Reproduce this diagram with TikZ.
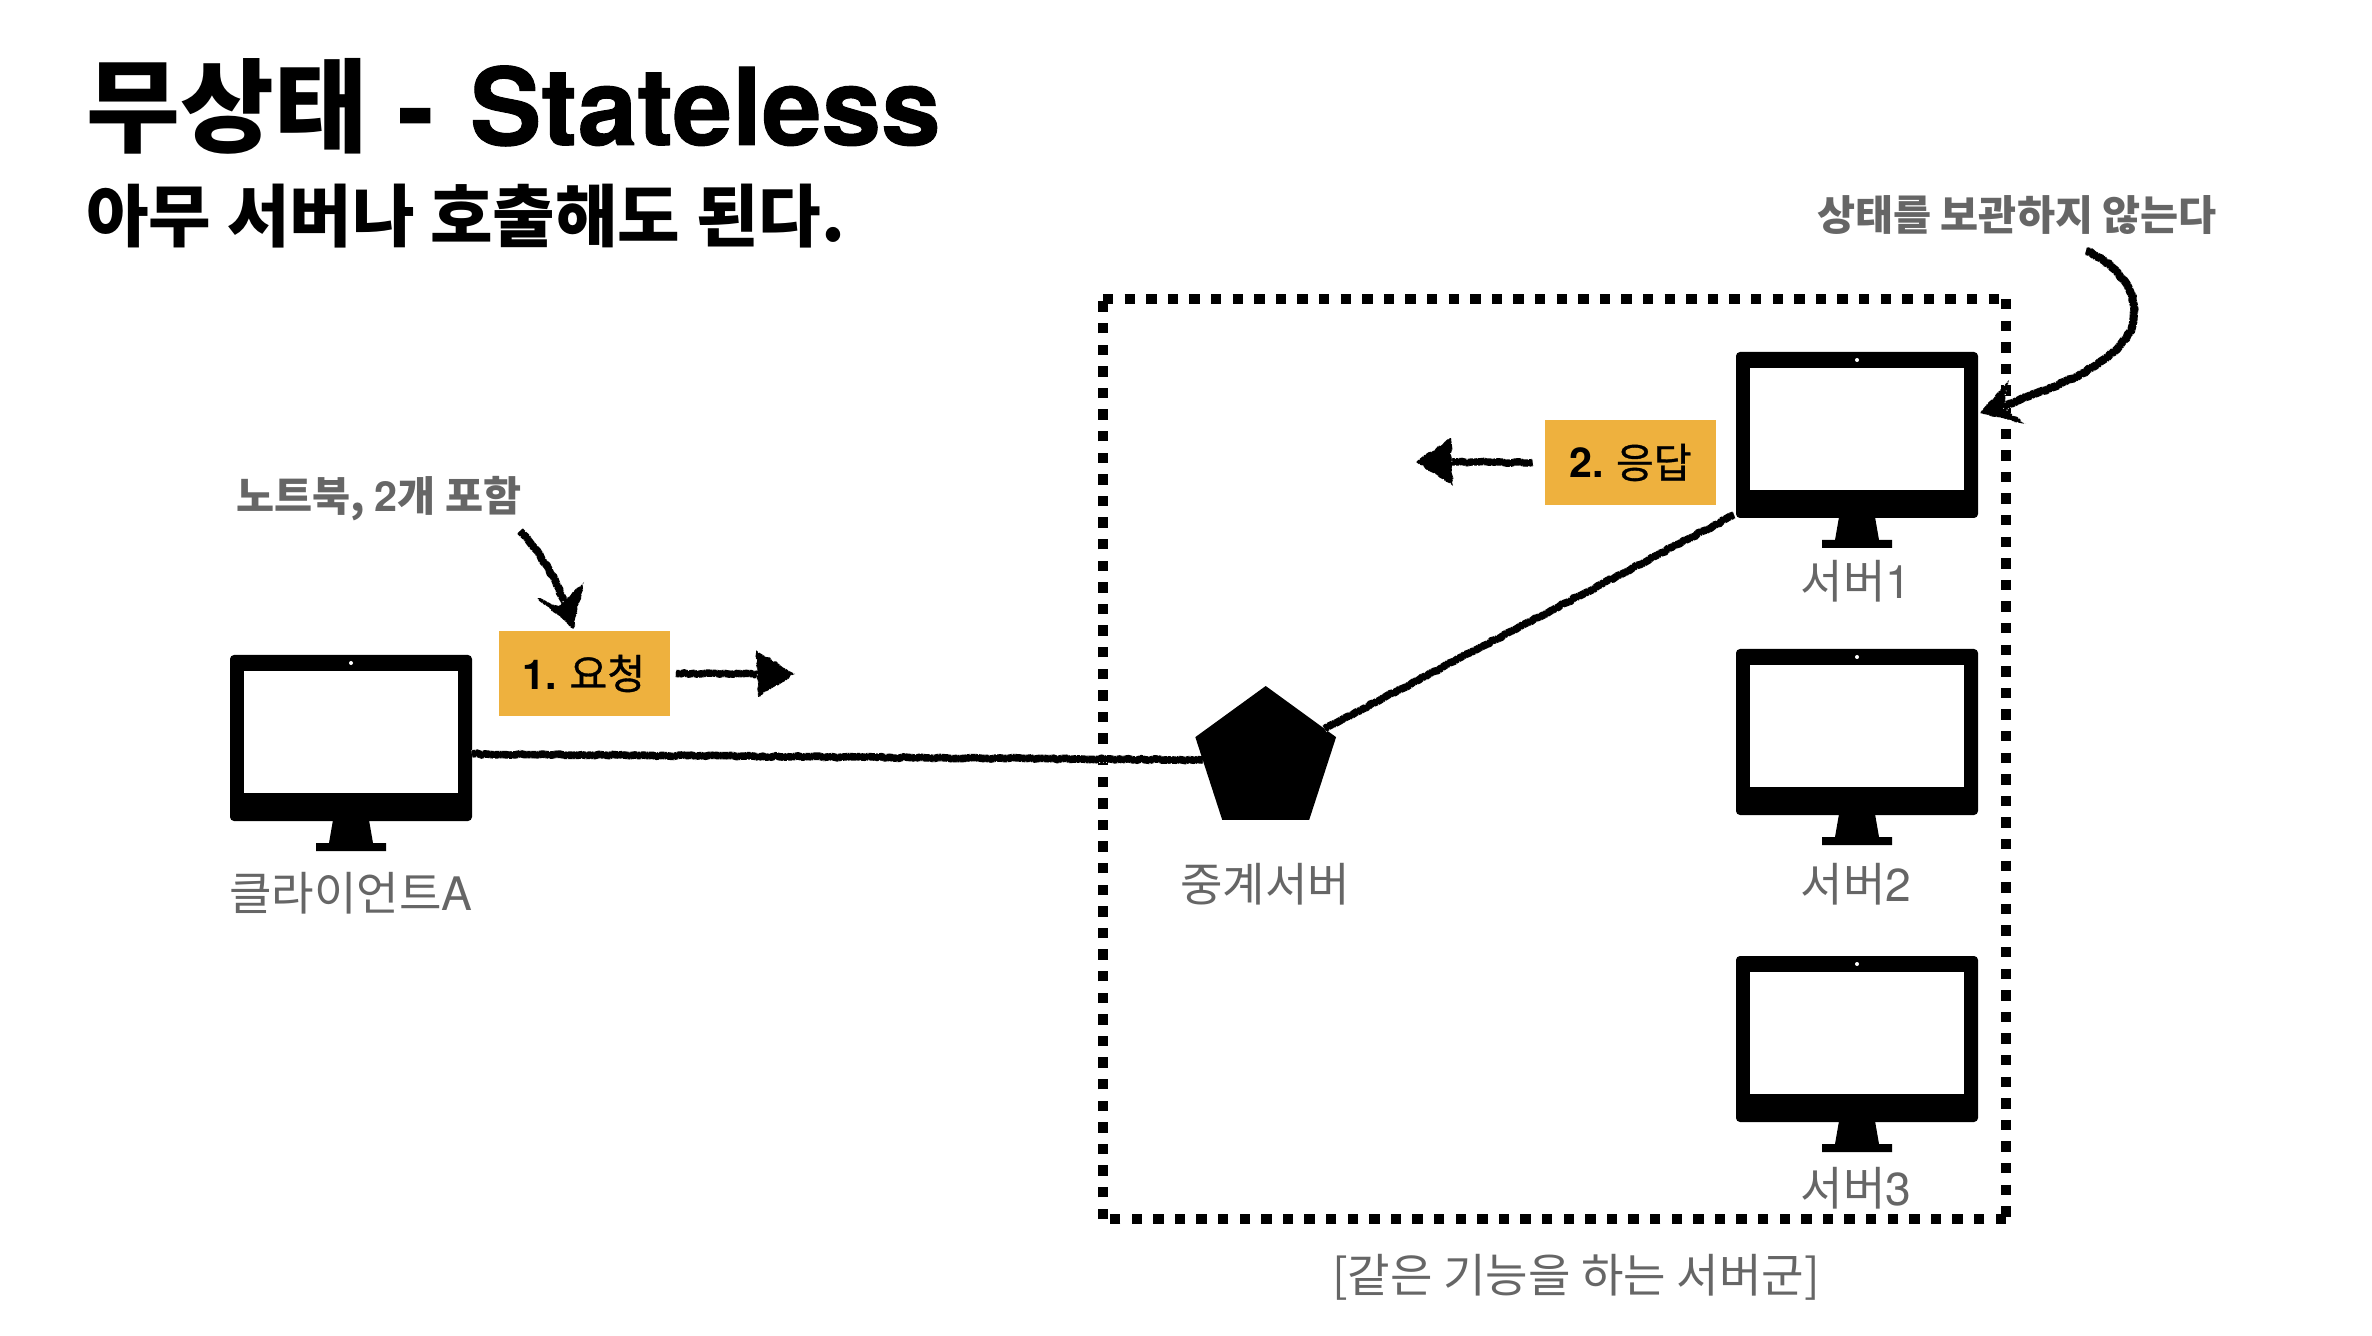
\documentclass[tikz,border=0pt]{standalone}
\usepackage{fontspec}
\setmainfont{Noto Sans CJK KR}
\newfontfamily\lat{TeX Gyre Heros}
\newfontfamily\latheavy[FakeBold=0.9]{TeX Gyre Heros Bold}
\newfontfamily\krmed[FakeBold=0.8]{Noto Sans CJK KR}
\usetikzlibrary{shapes.geometric,decorations.pathmorphing,calc}
\definecolor{noteamber}{HTML}{EEB13E}
\definecolor{labelgray}{HTML}{666666}
\tikzset{
  screen unit/.style={x=0.5pt,y=-0.5pt},
  pics/monitor/.style={code={
    \fill[black,rounded corners=2pt] (0,0) rectangle (242,166);
    \fill[white] (14,16) rectangle (228,138);
    \fill[white] (121,8) circle (1pt);
    \fill[black] (103,165) -- (139,165) -- (143,188) -- (156,188) -- (156,196)
                 -- (86,196) -- (86,188) -- (99,188) -- cycle;
    \coordinate (-east) at (242,99);
    \coordinate (-sw) at (-2,163);
  }},
  devlabel/.style={text=labelgray,font=\fontsize{23.1}{26}\selectfont,inner sep=0pt,anchor=center},
  remark/.style={text=labelgray,font=\fontsize{20.7}{24}\selectfont\bfseries,inner sep=0pt,anchor=center},
  stepnote/.style={fill=noteamber,minimum width=85.5pt,minimum height=42.5pt,inner sep=0pt,
    font=\fontsize{20.6}{24}\selectfont,text=black},
  grain/.style={white,line width=#1,
    dash pattern=on .3pt off 1.5pt on .5pt off 2.3pt on .25pt off .9pt on .4pt off 3.1pt},
  chalk/.style={black,line width=#1,line cap=butt,
    decorate,decoration={random steps,segment length=2.2pt,amplitude=.4pt},
    postaction={draw,grain=#1+.2pt},
    postaction={draw=black,line width=#1-.7pt,solid}},
  chalkhead/.style={fill=black,decorate,decoration={random steps,segment length=2pt,amplitude=.5pt},
    postaction={draw,grain=.5pt}},
  serverframe/.style={black,line width=5.2pt,dash pattern=on 5.2pt off 5.6pt},
}
\begin{document}
\begin{tikzpicture}[screen unit]
\useasboundingbox[fill=white] (0,0) rectangle (2372,1336);

% server group frame
\draw[serverframe] (1103,299) -- (2006,299);
\draw[serverframe] (2006,299) -- (2006,1219);
\draw[serverframe] (2006,1219) -- (1103,1219);
\draw[serverframe] (1103,1219) -- (1103,299);

% headings
\node[anchor=base west,inner sep=0pt,font=\fontsize{51}{60}\selectfont\bfseries] (title) at (86,145)
  {무상태 {\latheavy\fontsize{53.6}{60}\selectfont\hspace{3.3pt}-\hspace{3.3pt} Stateless}};
\node[anchor=base west,inner sep=0pt,font=\fontsize{34}{40}\selectfont\bfseries] (subtitle) at (86,242)
  {아무 서버나 호출해도 된다.};

% machines
\pic (client) at (230,655) {monitor};
\pic (srvone) at (1736,352) {monitor};
\pic (srvtwo) at (1736,649) {monitor};
\pic (srvthree) at (1736,956) {monitor};
\node[regular polygon,regular polygon sides=5,fill=black,inner sep=0pt,outer sep=0pt,
      minimum size=74pt] (relay) at (1265.7,760) {};

% machine captions
\node[devlabel] (clientcap) at (351,893) {클라이언트{\lat A}};
\node[devlabel] (relaycap) at (1265,884) {중계서버};
\node[devlabel] (onecap) at (1856,581) {서버{\lat 1}};
\node[devlabel] (twocap) at (1856,884) {서버{\lat 2}};
\node[devlabel] (threecap) at (1856,1188) {서버{\lat 3}};
\node[devlabel] (groupcap) at (1576,1277) {[같은 기능을 하는 서버군]};

% remarks
\node[remark] (noteclient) at (379,499) {노트북, {\lat 2}개 포함};
\node[remark] (notestate) at (2017,215) {상태를 보관하지 않는다};

% step notes
\node[stepnote] (req) at (584,673.5) {{\lat\bfseries 1.} {\krmed 요청}};
\node[stepnote] (res) at (1630.5,462.5) {{\lat\bfseries 2.} {\krmed 응답}};

% links between the machines
\draw[chalk=3.8pt] (client-east) -- (relay.west);
\draw[chalk=3.8pt] (relay.28) -- (srvone-sw);

% request arrow
\coordinate (reqtip) at (795,674);
\draw[chalk=3.7pt] ($(req.east)+(6,0)$) -- (762,674);
\fill[chalkhead] (reqtip) -- (758,697) -- (756,650) -- cycle;

% response arrow
\coordinate (restip) at (1416,462);
\draw[chalk=3.7pt] ($(res.west)+(-12,0)$) -- (1450,462);
\fill[chalkhead] (restip) -- (1451,438) -- (1453,486) -- cycle;

% arrow from the client remark
\coordinate (clienttip) at (573.5,629);
\draw[chalk=3.9pt] (520,531) .. controls (545,558) and (556,580) .. (568,612);
\fill[chalkhead] (clienttip) -- (537,598) -- (559,606) -- (584,582) -- cycle;

% arrow from the state remark
\coordinate (statetip) at (1980,413);
\draw[chalk=4.1pt] (2086,251) .. controls (2130,270) and (2150,315) .. (2120,345)
                 .. controls (2090,378) and (2040,390) .. (2000,408);
\fill[chalkhead] (statetip) -- (2009,380) -- (2003,408) -- (2026,424) -- cycle;
\end{tikzpicture}
\end{document}
